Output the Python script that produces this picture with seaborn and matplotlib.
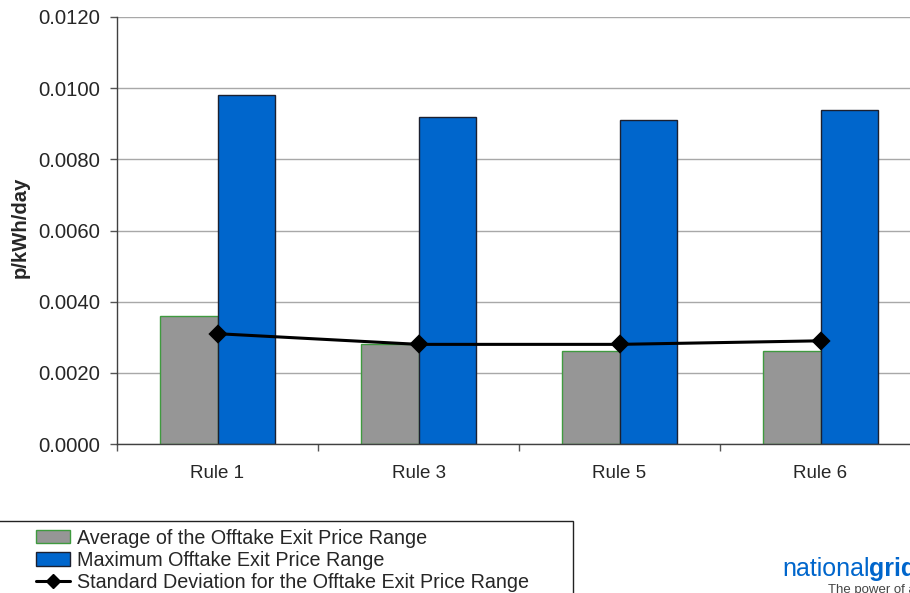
import matplotlib
matplotlib.use("Agg")
import matplotlib.pyplot as plt
from matplotlib.patches import Patch, Rectangle
from matplotlib.lines import Line2D
import seaborn as sns
import pandas as pd

# Chart data
rules = ["Rule 1", "Rule 3", "Rule 5", "Rule 6"]
avg_range = [0.0036, 0.0028, 0.0026, 0.0026]
max_range = [0.0098, 0.0092, 0.0091, 0.0094]
std_range = [0.0031, 0.0028, 0.0028, 0.0029]
series_names = [
    "Average of the Offtake Exit Price Range",
    "Maximum Offtake Exit Price Range",
    "Standard Deviation for the Offtake Exit Price Range",
]
y_ticks = [0.0, 0.002, 0.004, 0.006, 0.008, 0.010, 0.012]
y_label = "p/kWh/day"

GREY = "#969696"
BLUE = "#0066cc"
GREY_EDGE = "#3f9a3f"
BLUE_EDGE = "#1c2030"

sns.set_style("white")
plt.rcParams["font.family"] = ["Liberation Sans", "DejaVu Sans"]

W, H = 910, 593
fig = plt.figure(figsize=(W / 100, H / 100), dpi=100)
ax = fig.add_axes([117 / W, 1 - 444 / H, (921 - 117) / W, (444 - 17) / H])

bars = pd.DataFrame({
    "rule": rules * 2,
    "series": [series_names[0]] * len(rules) + [series_names[1]] * len(rules),
    "value": avg_range + max_range,
})
sns.barplot(data=bars, x="rule", y="value", hue="series", order=rules,
            hue_order=series_names[:2], palette=[GREY, BLUE], width=0.57,
            gap=0, saturation=1, errorbar=None, legend=False, ax=ax, zorder=2)
for cont, ec in zip(ax.containers, [GREY_EDGE, BLUE_EDGE]):
    for p in cont:
        p.set_edgecolor(ec)
        p.set_linewidth(1.0)

sns.pointplot(x=rules, y=std_range, order=rules, color="black", marker="D",
              markersize=8, linewidth=2.2, errorbar=None, ax=ax)
for coll in ax.collections:
    coll.set_zorder(5)
for ln in ax.lines:
    ln.set_zorder(5)

ax.set_xlim(-0.5, len(rules) - 0.5)
ax.set_ylim(0, 0.012)
ax.set_yticks(y_ticks)
ax.set_yticklabels([f"{v:.4f}" for v in y_ticks], fontsize=14.6)
ax.yaxis.grid(True, color="#a8a8a8", linewidth=1.0)
ax.xaxis.grid(False)
ax.set_axisbelow(True)

# category boundaries carry the tick marks, names sit at the centres
ax.set_xticks([i - 0.5 for i in range(len(rules) + 1)])
ax.set_xticklabels([])
ax.set_xticks(range(len(rules)), minor=True)
ax.set_xticklabels(rules, minor=True, fontsize=13.5)
ax.tick_params(axis="x", which="major", direction="out", length=5,
               width=1, color="#555555", bottom=True)
ax.tick_params(axis="x", which="minor", length=0, pad=15, bottom=True)
ax.tick_params(axis="y", direction="out", length=5, width=1,
               color="#555555", pad=7, left=True)
ax.set_xlabel("")
ax.set_ylabel(y_label, fontsize=14.6, fontweight="bold")
ax.yaxis.set_label_coords(-0.108, 0.507)

for side in ["top", "right"]:
    ax.spines[side].set_visible(False)
for side in ["left", "bottom"]:
    ax.spines[side].set_color("#404040")
    ax.spines[side].set_linewidth(1.0)

# legend box below the plot
fig.patches.append(Rectangle((-5 / W, -20 / H), 578 / W, (593 - 521 + 20) / H,
                             transform=fig.transFigure, fill=False,
                             edgecolor="#222222", linewidth=1.0))
handles = [
    Patch(facecolor=GREY, edgecolor=GREY_EDGE, linewidth=1.0),
    Patch(facecolor=BLUE, edgecolor=BLUE_EDGE, linewidth=1.0),
    Line2D([], [], color="black", linewidth=2.2, marker="D", markersize=7),
]
fig.legend(handles, series_names, loc="upper left",
           bbox_to_anchor=(36 / W, 1 - 528.5 / H), frameon=False,
           fontsize=14.2, handlelength=1.72, handleheight=0.65,
           handletextpad=0.36, labelspacing=0.17, borderpad=0.0,
           borderaxespad=0.0)

# logo text at the lower right
t1 = fig.text(782 / W, 1 - 576 / H, "national", color=BLUE, fontsize=18,
              va="baseline", ha="left")
fig.canvas.draw()
bb = t1.get_window_extent()
fig.text(bb.x1 / W, 1 - 576 / H, "grid", color=BLUE, fontsize=18,
         fontweight="bold", va="baseline", ha="left")
fig.text(828 / W, 1 - 584 / H, "The power of action", color="#444444",
         fontsize=9.5, va="top", ha="left")

fig.savefig("out.png", dpi=100)
